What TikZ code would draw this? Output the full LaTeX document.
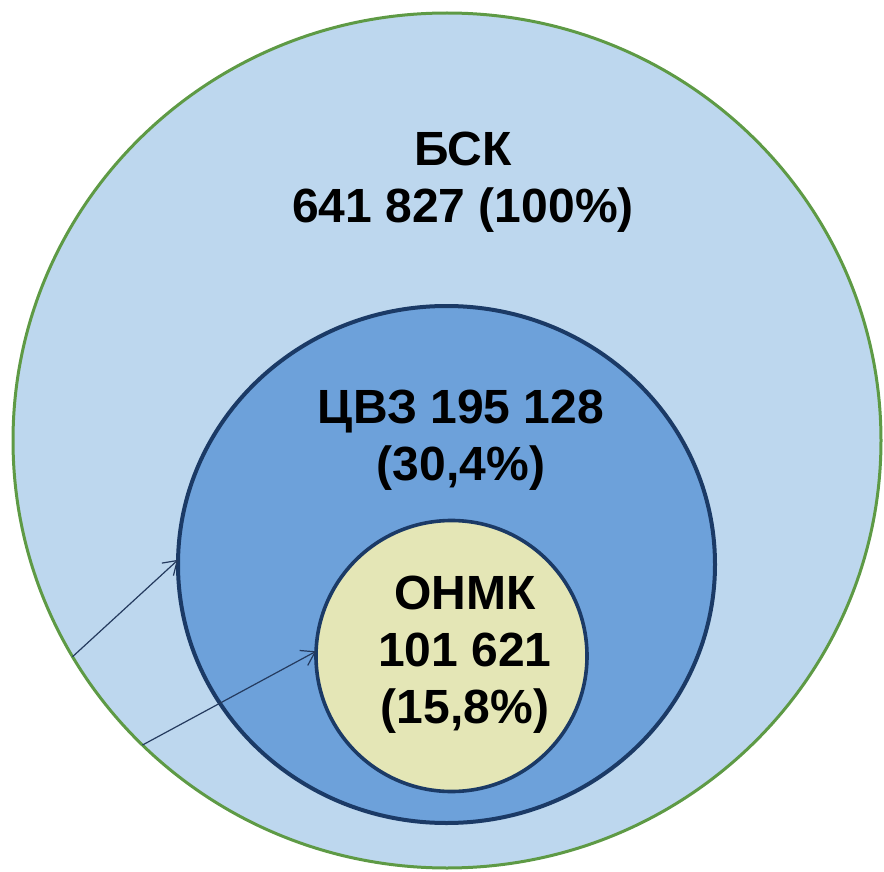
\documentclass[tikz,border=0pt]{standalone}
\usepackage{fontspec}
\setmainfont{Liberation Sans}
\usetikzlibrary{shapes.geometric,arrows.meta}
\definecolor{outerfill}{HTML}{BDD7EE}
\definecolor{outerline}{HTML}{5E9A45}
\definecolor{midfill}{HTML}{6DA1DA}
\definecolor{navy}{HTML}{1B3A66}
\definecolor{innerfill}{HTML}{E4E6B6}
\definecolor{arrowcol}{HTML}{243A5E}
\tikzset{
  circ/.style={ellipse, inner sep=0pt, outer sep=0pt},
  lbl/.style={font=\fontsize{48}{57}\selectfont\bfseries, align=center, text=black, inner sep=0pt},
  ptr/.style={draw=arrowcol, line width=1.2pt, -{Straight Barb[length=13pt,width=17pt,line width=1.2pt]}}
}
\begin{document}
\begin{tikzpicture}[x=1pt,y=-1pt]
\useasboundingbox (0,0) rectangle (884,872);
\node[circ, fill=outerfill, draw=outerline, line width=3pt, minimum width=868pt, minimum height=855pt] (outer) at (447,440.5) {};
\node[circ, fill=midfill, draw=navy, line width=4pt, minimum width=537pt, minimum height=517pt] (mid) at (446.5,564.5) {};
\node[circ, fill=innerfill, draw=navy, line width=3.6pt, minimum width=271pt, minimum height=271pt] (inner) at (451.5,656) {};
\node[lbl] (t1) at (463,182) {БСК\\641 827 (100\%)};
\node[lbl] (t2) at (461,440) {ЦВЗ 195 128\\(30,4\%)};
\node[lbl] (t3) at (465,655) {ОНМК\\101 621\\(15,8\%)};
\draw[ptr] (outer.210) -- (mid.179);
\draw[ptr] (outer.225) -- (inner.178);
\end{tikzpicture}
\end{document}
